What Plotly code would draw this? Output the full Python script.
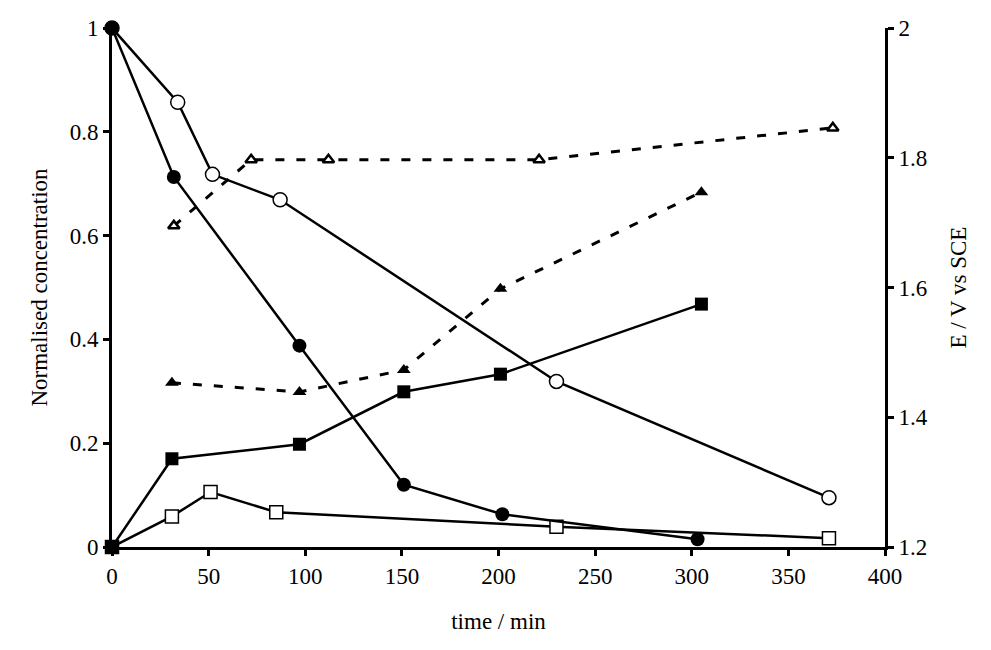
import plotly.graph_objects as go

# Left axis series (normalised concentration)
t_fc = [0, 32, 97, 151, 202, 303]
c_fc = [1.0, 0.713, 0.388, 0.12, 0.063, 0.015]

t_oc = [0, 34, 52, 87, 230, 371]
c_oc = [1.0, 0.857, 0.718, 0.669, 0.319, 0.095]

t_fs = [0, 31, 97, 151, 201, 305]
c_fs = [0.0, 0.17, 0.198, 0.299, 0.333, 0.468]

t_os = [0, 31, 51, 85, 230, 371]
c_os = [0.0, 0.059, 0.106, 0.067, 0.039, 0.017]

# Right axis series (E / V vs SCE)
t_ot = [32, 72, 112, 221, 373]
e_ot = [1.695, 1.797, 1.797, 1.797, 1.846]

t_ft = [31, 97, 151, 201, 305]
e_ft = [1.453, 1.439, 1.473, 1.598, 1.747]

x_ticks = [0, 50, 100, 150, 200, 250, 300, 350, 400]
yl_ticks = [0, 0.2, 0.4, 0.6, 0.8, 1]
yr_ticks = [1.2, 1.4, 1.6, 1.8, 2.0]
yr_labels = ["1.2", "1.4", "1.6", "1.8", "2"]

FONT = "Liberation Serif"
FS = 23

fig = go.Figure()

fig.add_trace(go.Scatter(x=t_ot, y=e_ot, yaxis="y2", mode="lines+markers",
                         line=dict(color="black", width=3, dash="9px,12px"),
                         marker=dict(symbol="triangle-up", size=10, color="white",
                                     line=dict(color="black", width=2.5)),
                         cliponaxis=False, showlegend=False))
fig.add_trace(go.Scatter(x=t_ft, y=e_ft, yaxis="y2", mode="lines+markers",
                         line=dict(color="black", width=3, dash="9px,12px"),
                         marker=dict(symbol="triangle-up", size=12, color="black"),
                         cliponaxis=False, showlegend=False))

fig.add_trace(go.Scatter(x=t_os, y=c_os, mode="lines+markers",
                         line=dict(color="black", width=2.5),
                         marker=dict(symbol="square", size=13, color="white",
                                     line=dict(color="black", width=1.5)),
                         cliponaxis=False, showlegend=False))
fig.add_trace(go.Scatter(x=t_fs, y=c_fs, mode="lines+markers",
                         line=dict(color="black", width=2.5),
                         marker=dict(symbol="square", size=13, color="black"),
                         cliponaxis=False, showlegend=False))
fig.add_trace(go.Scatter(x=t_oc, y=c_oc, mode="lines+markers",
                         line=dict(color="black", width=2.5),
                         marker=dict(symbol="circle", size=14, color="white",
                                     line=dict(color="black", width=1.5)),
                         cliponaxis=False, showlegend=False))
fig.add_trace(go.Scatter(x=t_fc, y=c_fc, mode="lines+markers",
                         line=dict(color="black", width=2.5),
                         marker=dict(symbol="circle", size=14, color="black"),
                         cliponaxis=False, showlegend=False))

axis_common = dict(showgrid=False, zeroline=False, showline=True, linecolor="black",
                   linewidth=3, ticks="outside", tickwidth=3, ticklen=6,
                   tickcolor="black", automargin=False,
                   tickfont=dict(family=FONT, size=FS, color="black"))

fig.update_layout(
    width=991, height=650,
    margin=dict(l=104, r=114, t=20, b=111),
    paper_bgcolor="white", plot_bgcolor="white",
    font=dict(family=FONT, size=FS, color="black"),
    xaxis=dict(range=[0, 400], tickvals=x_ticks, ticktext=[str(v) for v in x_ticks],
               title=dict(text="time / min", font=dict(family=FONT, size=FS), standoff=26),
               **axis_common),
    yaxis=dict(range=[0, 1], tickvals=yl_ticks, ticktext=["0", "0.2", "0.4", "0.6", "0.8", "1"],
               title=dict(text="Normalised concentration", font=dict(family=FONT, size=FS), standoff=16),
               **axis_common),
    yaxis2=dict(range=[1.2, 2.0], tickvals=yr_ticks, ticktext=yr_labels, overlaying="y",
                side="right",
                title=dict(text="E / V vs SCE", font=dict(family=FONT, size=FS), standoff=24),
                **axis_common),
)

fig.write_html("out.html")
